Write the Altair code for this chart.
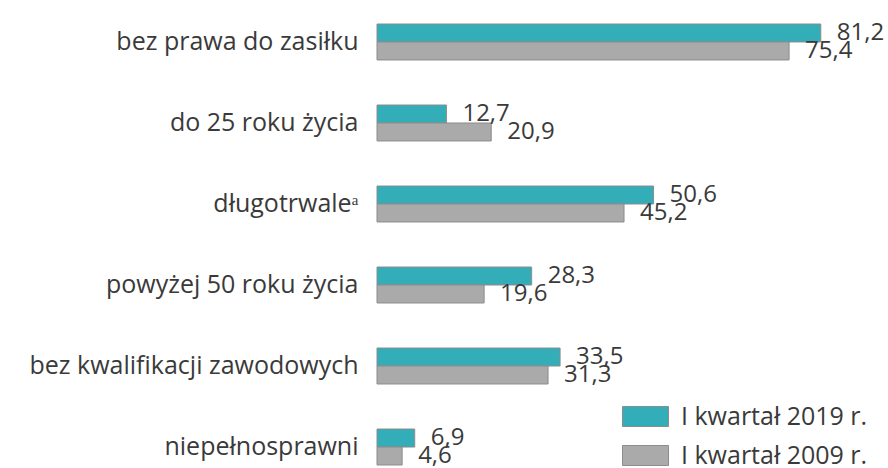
import altair as alt
import pandas as pd

categories = ["bez prawa do zasiłku", "do 25 roku życia", "długotrwaleᵃ",
              "powyżej 50 roku życia", "bez kwalifikacji zawodowych", "niepełnosprawni"]
series = ["I kwartał 2019 r.", "I kwartał 2009 r."]
values_2019 = [81.2, 12.7, 50.6, 28.3, 33.5, 6.9]
values_2009 = [75.4, 20.9, 45.2, 19.6, 31.3, 4.6]

rows = []
for c, a, b in zip(categories, values_2019, values_2009):
    rows.append({"cat": c, "series": series[0], "value": a, "label": f"{a:.1f}".replace(".", ",")})
    rows.append({"cat": c, "series": series[1], "value": b, "label": f"{b:.1f}".replace(".", ",")})
df = pd.DataFrame(rows)

FONT = "Open Sans"

y = alt.Y("cat:N", sort=categories, title=None,
          scale=alt.Scale(paddingInner=0.556, paddingOuter=0),
          axis=alt.Axis(domain=False, ticks=False, labelFontSize=25, labelFont=FONT,
                        labelColor="#3a3a3a", labelPadding=19, labelLimit=400))
yoff = alt.YOffset("series:N", sort=series, scale=alt.Scale(paddingInner=0, paddingOuter=0))
x = alt.X("value:Q", scale=alt.Scale(domain=[0, 93.5]), axis=None)

bars = alt.Chart(df).mark_bar(stroke="#8c8c8c", strokeWidth=1).encode(
    y=y, yOffset=yoff, x=x,
    color=alt.Color("series:N", sort=series,
                    scale=alt.Scale(domain=series, range=["#33aeb8", "#aaaaaa"]),
                    legend=alt.Legend(title=None, orient="none", legendX=245, legendY=369,
                                      labelFontSize=25, labelFont=FONT, labelColor="#3a3a3a",
                                      labelLimit=400,
                                      symbolType="M-1,-0.435L1,-0.435L1,0.435L-1,0.435Z",
                                      symbolSize=2116, symbolStrokeColor="#8c8c8c",
                                      symbolStrokeWidth=1, symbolOpacity=1,
                                      labelOffset=12, rowPadding=2))
)

labels = alt.Chart(df).mark_text(align="left", baseline="middle", dx=16, fontSize=24,
                                 font=FONT, color="#3a3a3a").encode(
    y=y, yOffset=yoff, x=x, text="label:N"
)

chart = (bars + labels).properties(
    width=511, height=441,
    autosize=alt.AutoSizeParams(type="none"),
    padding={"left": 377, "top": 24, "right": 0, "bottom": 3},
).configure_view(stroke=None)

chart.save("out.html", embed_options={"renderer": "svg", "actions": False})
